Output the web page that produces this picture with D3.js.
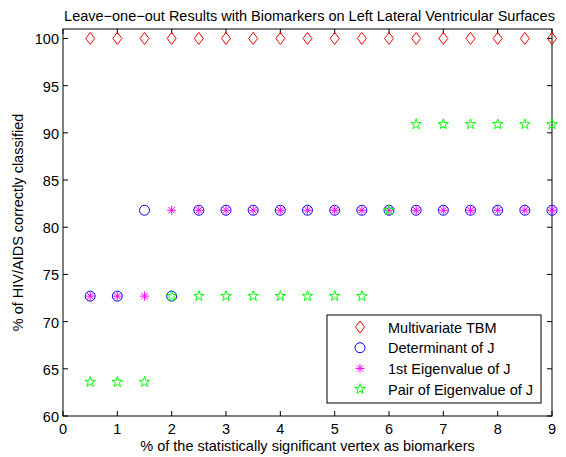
<!DOCTYPE html>
<html>
<head>
<meta charset="utf-8">
<script src="https://cdn.jsdelivr.net/npm/d3@7"></script>
<style>
  body { margin: 0; background: #fff; }
  text { font-family: "Liberation Sans", Arial, sans-serif; fill: #000; }
</style>
</head>
<body>
<div id="chart"></div>
<script>
// x positions (% of vertices)
const xs = [0.5, 1, 1.5, 2, 2.5, 3, 3.5, 4, 4.5, 5, 5.5, 6, 6.5, 7, 7.5, 8, 8.5, 9];
const tbm   = [100, 100, 100, 100, 100, 100, 100, 100, 100, 100, 100, 100, 100, 100, 100, 100, 100, 100];
const detJ  = [72.7, 72.7, 81.8, 72.7, 81.8, 81.8, 81.8, 81.8, 81.8, 81.8, 81.8, 81.8, 81.8, 81.8, 81.8, 81.8, 81.8, 81.8];
const eig1  = [72.7, 72.7, 72.7, 81.8, 81.8, 81.8, 81.8, 81.8, 81.8, 81.8, 81.8, 81.8, 81.8, 81.8, 81.8, 81.8, 81.8, 81.8];
const pairE = [63.6, 63.6, 63.6, 72.7, 72.7, 72.7, 72.7, 72.7, 72.7, 72.7, 72.7, 81.8, 90.9, 90.9, 90.9, 90.9, 90.9, 90.9];
const xTicks = [0, 1, 2, 3, 4, 5, 6, 7, 8, 9];
const yTicks = [60, 65, 70, 75, 80, 85, 90, 95, 100];
const seriesNames = ["Multivariate TBM", "Determinant of J", "1st Eigenvalue of J", "Pair of Eigenvalue of J"];

const W = 566, H = 457;
const margin = {left: 63, right: 14, top: 29, bottom: 41};
const fs = "14.5px";

const svg = d3.select("#chart").append("svg")
    .attr("width", W).attr("height", H);

const x = d3.scaleLinear().domain([0, 9]).range([margin.left, W - margin.right]);
const y = d3.scaleLinear().domain([60, 101]).range([H - margin.bottom, margin.top]);

// axes box
svg.append("rect")
    .attr("x", x(0)).attr("y", y(101))
    .attr("width", x(9) - x(0)).attr("height", y(60) - y(101))
    .attr("fill", "none").attr("stroke", "#000").attr("stroke-width", 1);

// ticks: inward on all four sides
const tl = 5;
const g = svg.append("g").attr("stroke", "#000").attr("stroke-width", 1);
xTicks.forEach(function(t) {
    g.append("line").attr("x1", x(t)).attr("x2", x(t)).attr("y1", y(60)).attr("y2", y(60) - tl);
    g.append("line").attr("x1", x(t)).attr("x2", x(t)).attr("y1", y(101)).attr("y2", y(101) + tl);
});
yTicks.forEach(function(t) {
    g.append("line").attr("x1", x(0)).attr("x2", x(0) + tl).attr("y1", y(t)).attr("y2", y(t));
    g.append("line").attr("x1", x(9)).attr("x2", x(9) - tl).attr("y1", y(t)).attr("y2", y(t));
});

svg.selectAll(".xtl").data(xTicks).enter().append("text")
    .attr("x", d => x(d)).attr("y", y(60) + 18)
    .attr("text-anchor", "middle").style("font-size", fs)
    .text(d => d);
svg.selectAll(".ytl").data(yTicks).enter().append("text")
    .attr("x", x(0) - 4).attr("y", d => y(d) + 6)
    .attr("text-anchor", "end").style("font-size", fs)
    .text(d => d);

// titles
svg.append("text")
    .attr("x", (x(0) + x(9)) / 2 + 2).attr("y", 21)
    .attr("text-anchor", "middle").style("font-size", fs)
    .text("Leave\u2212one\u2212out Results with Biomarkers on Left Lateral Ventricular Surfaces");
svg.append("text")
    .attr("x", (x(0) + x(9)) / 2).attr("y", 451)
    .attr("text-anchor", "middle").style("font-size", fs)
    .text("% of the statistically significant vertex as biomarkers");
svg.append("text")
    .attr("transform", "translate(23," + ((y(60) + y(101)) / 2) + ") rotate(-90)")
    .attr("text-anchor", "middle").style("font-size", fs)
    .text("% of HIV/AIDS correctly classified");

// marker drawing
function diamond(sel, color) {
    sel.append("path").attr("d", "M0,-6L4.5,0L0,6L-4.5,0Z")
        .attr("fill", "none").attr("stroke", color).attr("stroke-width", 1);
}
function circle(sel, color) {
    sel.append("circle").attr("r", 5)
        .attr("fill", "none").attr("stroke", color).attr("stroke-width", 1);
}
function asterisk(sel, color) {
    const r = 4.5;
    let d = "";
    [0, 45, 90, 135].forEach(function(a) {
        const rad = a * Math.PI / 180;
        const dx = r * Math.cos(rad), dy = r * Math.sin(rad);
        d += "M" + (-dx) + "," + (-dy) + "L" + dx + "," + dy;
    });
    sel.append("path").attr("d", d).attr("stroke", color).attr("stroke-width", 1).attr("fill", "none");
}
function star(sel, color) {
    sel.append("path").attr("d", d3.symbol().type(d3.symbolStar).size(34)())
        .attr("fill", "none").attr("stroke", color).attr("stroke-width", 1);
}

const series = [
    {vals: tbm, draw: diamond, color: "#ff0000"},
    {vals: detJ, draw: circle, color: "#0000ff"},
    {vals: eig1, draw: asterisk, color: "#ff00ff"},
    {vals: pairE, draw: star, color: "#00ff00"}
];

series.forEach(function(s) {
    xs.forEach(function(xv, i) {
        const m = svg.append("g").attr("transform", "translate(" + x(xv) + "," + y(s.vals[i]) + ")");
        s.draw(m, s.color);
    });
});

// legend
const lg = svg.append("g").attr("transform", "translate(327,315)");
lg.append("rect").attr("width", 214).attr("height", 88)
    .attr("fill", "#fff").attr("stroke", "#000").attr("stroke-width", 1);
series.forEach(function(s, i) {
    const yy = 12 + i * 20.7;
    const m = lg.append("g").attr("transform", "translate(33," + yy + ")");
    s.draw(m, s.color);
    lg.append("text").attr("x", 61).attr("y", yy + 5.5)
        .style("font-size", fs).text(seriesNames[i]);
});
</script>
</body>
</html>
